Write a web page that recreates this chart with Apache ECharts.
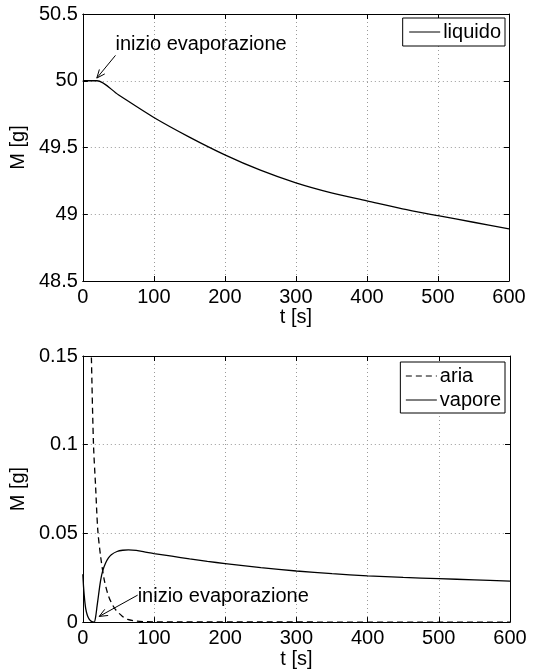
<!DOCTYPE html>
<html>
<head>
<meta charset="utf-8">
<script src="https://cdn.jsdelivr.net/npm/echarts@6/dist/echarts.min.js"></script>
<style>
html,body{margin:0;padding:0;background:#fff;}
#chart{width:542px;height:670px;}
</style>
</head>
<body>
<div id="chart"></div>
<script>
// ---- Data ----
var xTicks = [0, 100, 200, 300, 400, 500, 600];

var liquidT = [0, 10, 20, 50, 100, 150, 200, 250, 300, 350, 400, 450, 500, 550, 600];
var liquidM = [50, 50, 50, 49.895, 49.725, 49.578, 49.445, 49.33, 49.235, 49.16, 49.10, 49.04, 48.99, 48.94, 48.89];

var ariaT = [0, 3, 6, 9, 12, 15, 18, 21, 25, 30, 35, 40, 46, 55, 63, 75, 90, 100, 600];
var ariaM = [0.6, 0.42, 0.3, 0.21, 0.15, 0.1, 0.076, 0.052, 0.037, 0.024, 0.016, 0.011, 0.007, 0.0035, 0.0015, 0.0006, 0.0002, 0.0001, 0];

var vaporeT = [0, 1, 2, 3, 4, 6, 8, 10, 12, 14, 16, 18, 20, 22, 25, 28, 32, 36, 40, 48, 56, 64, 75, 90, 100, 125, 150, 175, 200, 250, 300, 350, 400, 450, 500, 550, 600];
var vaporeM = [0.027, 0.020, 0.015, 0.0108, 0.0078, 0.0043, 0.0023, 0.0011, 0.0004, 0.0001, 0.0, 0.003, 0.009, 0.015, 0.0235, 0.029, 0.0333, 0.0362, 0.038, 0.0398, 0.0405, 0.0407, 0.0404, 0.0393, 0.0386, 0.0372, 0.0356, 0.0342, 0.033, 0.0307, 0.0288, 0.0273, 0.0261, 0.0252, 0.0245, 0.0238, 0.0231];

var topYTicks = [48.5, 49, 49.5, 50, 50.5];
var botYTicks = [0, 0.05, 0.1, 0.15];

var annoText = 'inizio evaporazione';
// annotation: tail point, arrow tip, text anchor (data coords)
var annoTop = {tail: [46, 50.19], tip: [19.7, 50.02], text: [46, 50.27]};
var annoBot = {tail: [77, 0.0152], tip: [23, 0.0032], text: [77, 0.0147]};

function pairs(t, v) { return t.map(function (x, i) { return [x, v[i]]; }); }

var FONT = "'Liberation Sans', Arial, Helvetica, sans-serif";
var FS = 20;

var chart = echarts.init(document.getElementById('chart'), null, {renderer: 'canvas'});

function xAx(grid, nameGap) {
  return [{
    type: 'value', gridIndex: grid, min: xTicks[0], max: xTicks[xTicks.length - 1], interval: 100,
    name: 't [s]', nameLocation: 'middle', nameGap: nameGap,
    nameTextStyle: {fontFamily: FONT, fontSize: FS, color: '#000'},
    axisLine: {show: true, onZero: false, lineStyle: {color: '#000', width: 1}},
    axisTick: {show: true, inside: true, length: 5, lineStyle: {color: '#000'}},
    axisLabel: {fontFamily: FONT, fontSize: FS, color: '#000', margin: 6},
    splitLine: {show: true, lineStyle: {color: '#9a9a9a', type: [1, 3], width: 1}}
  }, {
    type: 'value', gridIndex: grid, position: 'top', min: xTicks[0], max: xTicks[xTicks.length - 1], interval: 100,
    axisLine: {show: true, onZero: false, lineStyle: {color: '#000', width: 1}},
    axisTick: {show: true, inside: true, length: 5, lineStyle: {color: '#000'}},
    axisLabel: {show: false}, splitLine: {show: false}
  }];
}
function yAx(grid, ticks, interval) {
  return [{
    type: 'value', gridIndex: grid, min: ticks[0], max: ticks[ticks.length - 1], interval: interval,
    name: 'M [g]', nameLocation: 'middle', nameGap: 48, nameRotate: 90,
    nameTextStyle: {fontFamily: FONT, fontSize: FS, color: '#000'},
    axisLine: {show: true, onZero: false, lineStyle: {color: '#000', width: 1}},
    axisTick: {show: true, inside: true, length: 5, lineStyle: {color: '#000'}},
    axisLabel: {fontFamily: FONT, fontSize: FS, color: '#000', margin: 5},
    splitLine: {show: true, lineStyle: {color: '#9a9a9a', type: [1, 3], width: 1}}
  }, {
    type: 'value', gridIndex: grid, position: 'right', min: ticks[0], max: ticks[ticks.length - 1], interval: interval,
    axisLine: {show: true, onZero: false, lineStyle: {color: '#000', width: 1}},
    axisTick: {show: true, inside: true, length: 5, lineStyle: {color: '#000'}},
    axisLabel: {show: false}, splitLine: {show: false}
  }];
}

var xs = xAx(0, 26).concat(xAx(1, 24));
var ys = yAx(0, topYTicks, 0.5).concat(yAx(1, botYTicks, 0.05));

var legendCommon = {
  orient: 'vertical', right: 37, borderColor: '#000', borderWidth: 1, backgroundColor: '#fff',
  itemWidth: 31, itemHeight: 14, itemGap: 2, borderRadius: 0,
  itemStyle: {color: 'rgba(0,0,0,0)', borderWidth: 0, opacity: 0},
  lineStyle: {width: 1},
  textStyle: {fontFamily: FONT, fontSize: FS, color: '#000', lineHeight: 22, padding: [0, 0, 0, -2]}
};

chart.setOption({
  animation: false,
  backgroundColor: '#fff',
  grid: [
    {left: 82, top: 14, width: 427, height: 267, containLabel: false},
    {left: 82, top: 356, width: 428, height: 268, containLabel: false}
  ],
  xAxis: xs,
  yAxis: ys,
  legend: [
    Object.assign({}, legendCommon, {top: 18, data: ['liquido'], padding: [3, 4, 3, 6]}),
    Object.assign({}, legendCommon, {top: 362, data: ['aria', 'vapore'], padding: [3, 4, 2, 5]})
  ],
  series: [
    {name: 'liquido', type: 'line', xAxisIndex: 0, yAxisIndex: 0, data: pairs(liquidT, liquidM),
     symbol: 'none', smooth: 0.3, clip: true,
     lineStyle: {color: '#000', width: 1.3}, itemStyle: {color: '#000'}},
    {name: 'aria', type: 'line', xAxisIndex: 2, yAxisIndex: 2, data: pairs(ariaT, ariaM),
     symbol: 'none', smooth: 0.3, clip: true,
     lineStyle: {color: '#000', width: 1.3, type: [6, 4]}, itemStyle: {color: '#000'}},
    {name: 'vapore', type: 'line', xAxisIndex: 2, yAxisIndex: 2, data: pairs(vaporeT, vaporeM),
     symbol: 'none', smooth: 0.3, clip: true,
     lineStyle: {color: '#000', width: 1.3}, itemStyle: {color: '#000'}}
  ]
});

function arrowGraphics(anno, gridIndex) {
  var tail = chart.convertToPixel({gridIndex: gridIndex}, anno.tail);
  var tip = chart.convertToPixel({gridIndex: gridIndex}, anno.tip);
  var tp = chart.convertToPixel({gridIndex: gridIndex}, anno.text);
  var ang = Math.atan2(tail[1] - tip[1], tail[0] - tip[0]);
  var L = 9, h = 0.4;
  var p1 = [tip[0] + L * Math.cos(ang + h), tip[1] + L * Math.sin(ang + h)];
  var p2 = [tip[0] + L * Math.cos(ang - h), tip[1] + L * Math.sin(ang - h)];
  return [
    {type: 'line', shape: {x1: tail[0], y1: tail[1], x2: tip[0], y2: tip[1]},
     style: {stroke: '#000', lineWidth: 1}, z: 100},
    {type: 'polyline', shape: {points: [p1, tip, p2]},
     style: {stroke: '#000', lineWidth: 1, fill: null}, z: 100},
    {type: 'text', x: tp[0], y: tp[1], z: 100,
     style: {text: annoText, font: FS + 'px ' + FONT, fill: '#000', textAlign: 'left', textVerticalAlign: 'middle'}}
  ];
}

chart.setOption({graphic: arrowGraphics(annoTop, 0).concat(arrowGraphics(annoBot, 1))});
</script>
</body>
</html>
